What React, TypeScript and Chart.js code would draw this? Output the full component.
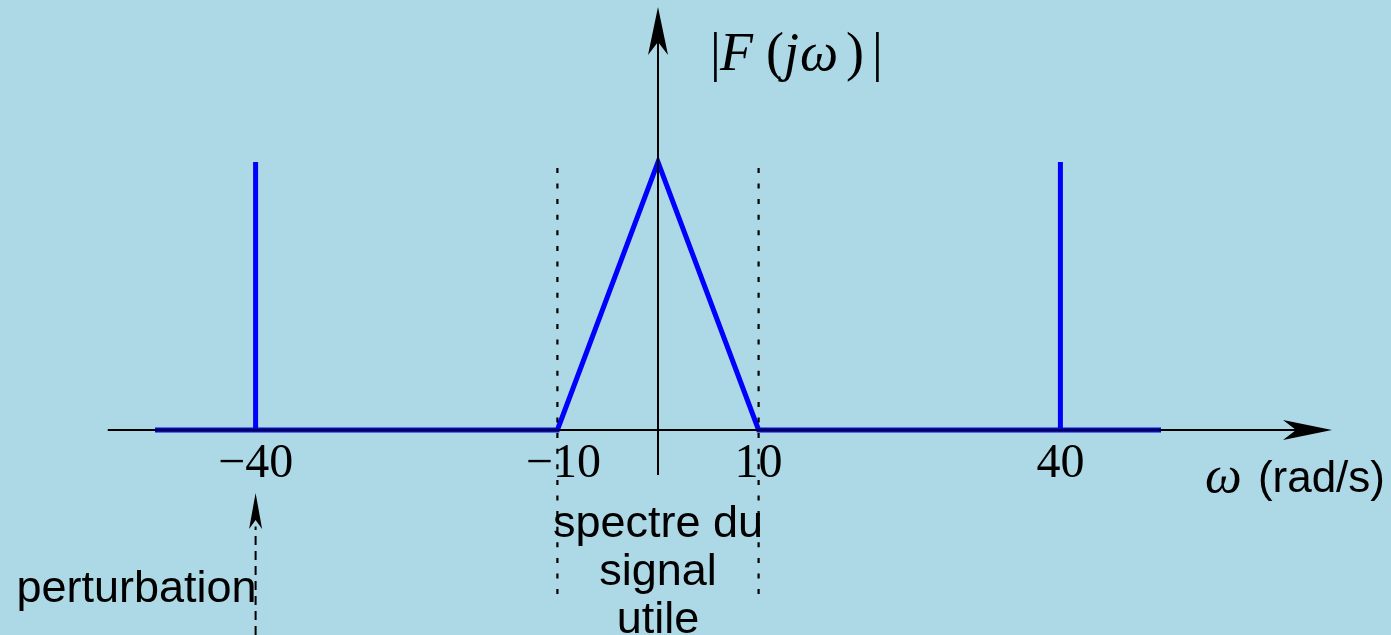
import React, { useEffect, useRef } from 'react';
import { Chart, registerables } from 'chart.js';

Chart.register(...registerables);

// ---- data ----
const omega = [-50, -40, -40, -40, -10, 0, 10, 40, 40, 40, 50];
const magnitude = [0, 0, 1, 0, 0, 1, 0, 0, 1, 0, 0];
const tickValues = [-40, -10, 10, 40];
const tickLabels = ['\u221240', '\u221210', '10', '40'];
const bandEdges = [-10, 10];
const bandLabel = ['spectre du', 'signal', 'utile'];
const disturbanceAt = -40;
const disturbanceLabel = 'perturbation';
const xUnitLabel = '(rad/s)';

const W = 1391;
const H = 635;
const BG = '#ADD8E6';

function arrowHead(ctx: CanvasRenderingContext2D, tx: number, ty: number, dx: number, dy: number, len: number, hw: number, notch: number) {
  const px = -dy, py = dx;
  const bx = tx - dx * len, by = ty - dy * len;
  const nx = tx - dx * (len - notch), ny = ty - dy * (len - notch);
  ctx.beginPath();
  ctx.moveTo(tx, ty);
  ctx.lineTo(bx + px * hw, by + py * hw);
  ctx.lineTo(nx, ny);
  ctx.lineTo(bx - px * hw, by - py * hw);
  ctx.closePath();
  ctx.fill();
}

const decor = {
  id: 'decor',
  beforeDraw(chart: any) {
    const { ctx } = chart;
    ctx.save();
    ctx.fillStyle = BG;
    ctx.fillRect(0, 0, chart.width, chart.height);
    ctx.restore();
  },
  afterDatasetsDraw(chart: any) {
    const { ctx } = chart;
    const xs = chart.scales.x;
    const ys = chart.scales.y;
    const X = (v: number) => xs.getPixelForValue(v);
    const Y = (v: number) => ys.getPixelForValue(v);
    const x0 = X(0);
    const y0 = Y(0);

    ctx.save();
    ctx.strokeStyle = '#000';
    ctx.fillStyle = '#000';
    ctx.lineWidth = 2;
    ctx.lineCap = 'butt';

    // x axis
    const xa0 = X(-54.7), xa1 = X(67.0);
    ctx.beginPath();
    ctx.moveTo(xa0, y0);
    ctx.lineTo(xa1 - 30, y0);
    ctx.stroke();
    arrowHead(ctx, xa1, y0, 1, 0, 49, 10, 13);

    // y axis
    const ya0 = Y(-0.168), ya1 = Y(1.578);
    ctx.beginPath();
    ctx.moveTo(x0, ya0);
    ctx.lineTo(x0, ya1 + 30);
    ctx.stroke();
    arrowHead(ctx, x0, ya1, 0, -1, 48, 10, 13);

    // dotted band edges
    ctx.setLineDash([5, 10.6]);
    ctx.lineWidth = 2.2;
    for (const e of bandEdges) {
      ctx.beginPath();
      ctx.moveTo(X(e), Y(0.978));
      ctx.lineTo(X(e), Y(-0.64));
      ctx.stroke();
    }

    // disturbance arrow (dashed)
    const dx = X(disturbanceAt);
    ctx.setLineDash([9, 6]);
    ctx.lineWidth = 2;
    ctx.beginPath();
    ctx.moveTo(dx, H);
    ctx.lineTo(dx, Y(-0.36));
    ctx.stroke();
    ctx.setLineDash([]);
    arrowHead(ctx, dx, Y(-0.235), 0, -1, 36, 6.5, 9);

    // tick labels
    ctx.font = '48px "Liberation Serif"';
    ctx.textAlign = 'center';
    ctx.textBaseline = 'alphabetic';
    tickValues.forEach((v, i) => {
      const lbl = tickLabels[i];
      const shift = v === -10 ? 6 : 0;
      ctx.fillText(lbl, X(v) + shift, 477);
    });

    // y label |F(jω)|
    const parts: [string, boolean, number][] = [
      ['|', false, 52],
      ['F', true, 62],
      ['(', false, 108],
      ['j', true, 126],
      ['\u03c9', true, 142],
      [')', false, 188],
      ['|', false, 214],
    ];
    ctx.textAlign = 'left';
    for (const [t, it, off] of parts) {
      ctx.font = (it ? 'italic ' : '') + '54px "Liberation Serif"';
      ctx.fillText(t, x0 + off, 70);
    }

    // x label ω (rad/s)
    ctx.font = 'italic 52px "Liberation Serif"';
    ctx.fillText('\u03c9', 1205, 492);
    ctx.font = '44px "Liberation Sans"';
    ctx.textAlign = 'right';
    ctx.fillText(xUnitLabel, 1385, 492);

    // band label
    ctx.font = '45px "Liberation Sans"';
    ctx.textAlign = 'center';
    const bc = (X(bandEdges[0]) + X(bandEdges[1])) / 2;
    bandLabel.forEach((s, i) => ctx.fillText(s, bc, 537 + i * 48));

    // disturbance label
    ctx.textAlign = 'right';
    ctx.fillText(disturbanceLabel, dx + 1, 602);

    ctx.restore();
  },
};

export default function App() {
  const ref = useRef<HTMLCanvasElement>(null);
  useEffect(() => {
    document.body.style.margin = '0';
    document.body.style.background = BG;
    const canvas = ref.current!;
    const pxPerUnit = 10.06;
    const xCenter = 658;
    const yZero = 430;
    const yPerUnit = 268;
    const chart = new Chart(canvas, {
      type: 'line',
      data: {
        datasets: [
          {
            data: omega.map((x, i) => ({ x, y: magnitude[i] })),
            borderColor: '#0000ff',
            borderWidth: 5,
            pointRadius: 0,
            tension: 0,
            fill: false,
            borderCapStyle: 'butt',
            borderJoinStyle: 'miter',
          },
        ],
      },
      options: {
        animation: false,
        responsive: false,
        events: [],
        layout: { padding: 0 },
        plugins: { legend: { display: false }, tooltip: { enabled: false } },
        scales: {
          x: {
            type: 'linear',
            display: false,
            min: -xCenter / pxPerUnit,
            max: (W - xCenter) / pxPerUnit,
          },
          y: {
            type: 'linear',
            display: false,
            min: -(H - yZero) / yPerUnit,
            max: yZero / yPerUnit,
          },
        },
      },
      plugins: [decor],
    } as any);
    return () => chart.destroy();
  }, []);
  return (
    <div style={{ position: 'fixed', left: 0, top: 0, width: W, height: H, background: BG }}>
      <canvas ref={ref} width={W} height={H} style={{ display: 'block' }} />
    </div>
  );
}
